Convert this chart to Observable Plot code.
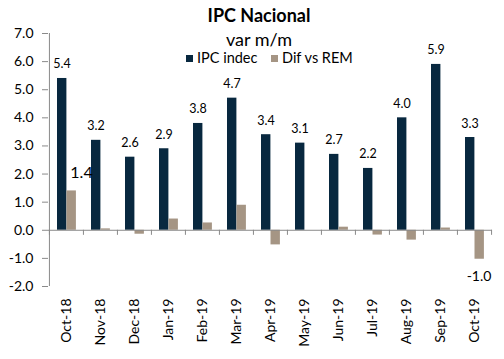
<!DOCTYPE html>
<html>
<head>
<meta charset="utf-8">
<script src="https://cdn.jsdelivr.net/npm/d3@7"></script>
<script src="https://cdn.jsdelivr.net/npm/@observablehq/plot@0.6"></script>
<style>
  body { margin: 0; background: #fff; font-family: Lato, "Open Sans", sans-serif; }
  #wrap { position: relative; width: 504px; height: 359px; overflow: hidden; }
  #chart { position: absolute; left: 0; top: 0; }
  .t { position: absolute; white-space: nowrap; color: #000; }
  .sw { position: absolute; width: 7px; height: 7px; }
</style>
</head>
<body>
<div id="wrap">
  <div id="chart"></div>
  <div class="t" style="left:0;width:518px;text-align:center;top:4px;font-size:18px;font-weight:bold;line-height:22px;">IPC Nacional</div>
  <div class="t" style="left:0;width:518px;text-align:center;top:28px;font-size:18px;line-height:22px;">var m/m</div>
  <div class="sw" style="left:186px;top:55px;background:#08283f;"></div>
  <div class="t" style="left:197px;top:49px;font-size:14.5px;line-height:18px;">IPC indec</div>
  <div class="sw" style="left:271px;top:55px;background:#a59584;"></div>
  <div class="t" style="left:282px;top:49px;font-size:14.5px;line-height:18px;">Dif vs REM</div>
</div>
<script>
const months = ["Oct-18","Nov-18","Dec-18","Jan-19","Feb-19","Mar-19","Apr-19","May-19","Jun-19","Jul-19","Aug-19","Sep-19","Oct-19"];
const ipc = [5.4, 3.2, 2.6, 2.9, 3.8, 4.7, 3.4, 3.1, 2.7, 2.2, 4.0, 5.9, 3.3];
const dif = [1.4, 0.05, -0.14, 0.4, 0.26, 0.89, -0.52, 0, 0.11, -0.17, -0.35, 0.08, -1.03];
const difLabelIdx = [0, 12];
const yTicks = [-2, -1, 0, 1, 2, 3, 4, 5, 6, 7];

const rows = months.map((m, i) => ({month: m, ipc: ipc[i], dif: dif[i]}));
const difLabels = difLabelIdx.map(i => rows[i]);

const W = 504, H = 359, ML = 48, MR = 12;
const half = (W - ML - MR) / months.length / 2;
const dark = "#08283f", tan = "#a59584", gray = "#8a8a8a";

const plot = Plot.plot({
  width: W, height: H,
  marginLeft: ML, marginRight: MR, marginTop: 33, marginBottom: 73,
  style: {fontFamily: "Lato, 'Open Sans', sans-serif", background: "transparent"},
  x: {domain: months, padding: 0, label: null},
  y: {domain: [-2, 7], label: null},
  marks: [
    Plot.axisY({ticks: yTicks, tickFormat: d => d.toFixed(1), tickSize: 6, tickPadding: 9, fontSize: 14, stroke: gray, color: "#000"}),
    Plot.axisX({tickRotate: -90, tickSize: 0, tickPadding: 12, fontSize: 14, label: null, color: "#000"}),
    Plot.barY(rows, {x: "month", y: "ipc", fill: dark, insetLeft: 8, insetRight: 16.6}),
    Plot.barY(rows, {x: "month", y: "dif", fill: tan, insetLeft: 17.5, insetRight: 7.1}),
    Plot.ruleY([0], {stroke: gray}),
    Plot.ruleX(months, {x: d => d, dx: -half, y1: 0, y2: -0.18, stroke: gray}),
    Plot.ruleX([months[months.length - 1]], {x: d => d, dx: half, y1: 0, y2: -0.18, stroke: gray}),
    Plot.ruleX([months[0]], {x: d => d, dx: -half, y1: -2, y2: 7, stroke: gray}),
    Plot.text(rows, {x: "month", y: "ipc", text: d => d.ipc.toFixed(1), dx: -4.5, dy: -14, fontSize: 12.5, fill: "#000"}),
    Plot.text(difLabels.filter(d => d.dif > 0), {x: "month", y: "dif", text: d => d.dif.toFixed(1), dx: 15, dy: -18, fontSize: 16, fill: "#000"}),
    Plot.text(difLabels.filter(d => d.dif < 0), {x: "month", y: "dif", text: d => d.dif.toFixed(1), dx: 4.5, dy: 17, fontSize: 14, fill: "#000"})
  ]
});
document.getElementById("chart").appendChild(plot);
</script>
</body>
</html>
